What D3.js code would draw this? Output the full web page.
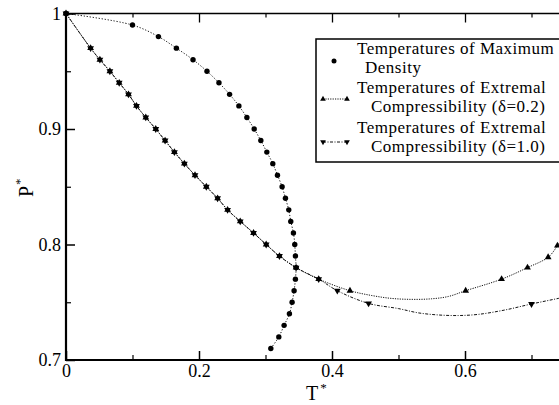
<!DOCTYPE html>
<html>
<head>
<meta charset="utf-8">
<script src="https://cdn.jsdelivr.net/npm/d3@7"></script>
<style>
  html, body { margin: 0; padding: 0; background: #fff; }
  svg { display: block; }
  text { font-family: "Liberation Serif", "Times New Roman", serif; fill: #000; }
</style>
</head>
<body>
<svg id="chart" width="559" height="405"></svg>
<script>
// ---------------- data ----------------
// Temperatures of Maximum Density: [T*, P*]
const tmdT = [0.000, 0.100, 0.139, 0.166, 0.191, 0.212, 0.230, 0.246, 0.260, 0.272,
              0.283, 0.293, 0.302, 0.311, 0.318, 0.325, 0.330, 0.335, 0.338, 0.342,
              0.344, 0.345, 0.346, 0.345, 0.343, 0.340, 0.336, 0.328, 0.320, 0.308];
const tmdP = [1.00, 0.99, 0.98, 0.97, 0.96, 0.95, 0.94, 0.93, 0.92, 0.91,
              0.90, 0.89, 0.88, 0.87, 0.86, 0.85, 0.84, 0.83, 0.82, 0.81,
              0.80, 0.79, 0.78, 0.77, 0.76, 0.75, 0.74, 0.73, 0.72, 0.71];

// Extremal compressibility, delta = 0.2 (line points)
const ec02T = [0.000, 0.037, 0.051, 0.066, 0.080, 0.094, 0.106, 0.120, 0.135, 0.149,
               0.163, 0.178, 0.194, 0.211, 0.228, 0.243, 0.262, 0.282, 0.301, 0.321,
               0.346, 0.380, 0.427, 0.460, 0.490, 0.520, 0.550, 0.575, 0.601, 0.655,
               0.694, 0.725, 0.739, 0.750];
const ec02P = [1.000, 0.970, 0.960, 0.950, 0.940, 0.930, 0.920, 0.910, 0.900, 0.890,
               0.880, 0.870, 0.860, 0.850, 0.840, 0.830, 0.820, 0.810, 0.800, 0.790,
               0.780, 0.770, 0.760, 0.7558, 0.7533, 0.7525, 0.7530, 0.7550, 0.760, 0.770,
               0.780, 0.789, 0.799, 0.810];
// marker flags (1 = symbol drawn at that point)
const ec02Mark = [1,1,1,1,1,1,1,1,1,1, 1,1,1,1,1,1,1,1,1,1, 1,1,1,0,0,0,0,0,1,1, 1,1,1,0];

// Extremal compressibility, delta = 1.0 (line points)
const ec10T = [0.000, 0.037, 0.051, 0.066, 0.080, 0.094, 0.106, 0.120, 0.135, 0.149,
               0.163, 0.178, 0.194, 0.211, 0.228, 0.243, 0.262, 0.282, 0.301, 0.321,
               0.346, 0.380, 0.408, 0.455, 0.500, 0.530, 0.560, 0.590, 0.620, 0.660,
               0.700, 0.741, 0.780];
const ec10P = [1.000, 0.970, 0.960, 0.950, 0.940, 0.930, 0.920, 0.910, 0.900, 0.890,
               0.880, 0.870, 0.860, 0.850, 0.840, 0.830, 0.820, 0.810, 0.800, 0.790,
               0.780, 0.770, 0.760, 0.749, 0.7445, 0.7408, 0.7390, 0.7385, 0.7395, 0.7433,
               0.7485, 0.7534, 0.758];
const ec10Mark = [1,1,1,1,1,1,1,1,1,1, 1,1,1,1,1,1,1,1,1,1, 1,1,1,1,0,0,0,0,0,0, 1,0,0];

// axes
const xMajorTicks = [0, 0.2, 0.4, 0.6, 0.8];
const xTickLabels = ["0", "0.2", "0.4", "0.6", ""];
const xMinorTicks = [0.1, 0.3, 0.5, 0.7];
const yMajorTicks = [0.7, 0.8, 0.9, 1.0];
const yTickLabels = ["0.7", "0.8", "0.9", "1"];
const yMinorTicks = [0.75, 0.85, 0.95];

const legendLabels = [
  ["Temperatures of Maximum", "Density"],
  ["Temperatures of Extremal", "Compressibility (\u03B4=0.2)"],
  ["Temperatures of Extremal", "Compressibility (\u03B4=1.0)"]
];

// ---------------- drawing ----------------
const svg = d3.select("#chart");
const x = d3.scaleLinear().domain([0, 0.8]).range([66, 598]);
const y = d3.scaleLinear().domain([0.7, 1.0]).range([360, 13.5]);

const zip = (a, b) => a.map((v, i) => [v, b[i]]);
const tmd = zip(tmdT, tmdP);
const ec02 = zip(ec02T, ec02P);
const ec10 = zip(ec10T, ec10P);

const line = d3.line().x(d => x(d[0])).y(d => y(d[1])).curve(d3.curveCatmullRom.alpha(0.5));

// lines
svg.append("path").datum(tmd).attr("d", line)
  .attr("fill", "none").attr("stroke", "#111").attr("stroke-width", 1)
  .attr("stroke-dasharray", "1.2,1.8");
svg.append("path").datum(ec02).attr("d", line)
  .attr("fill", "none").attr("stroke", "#111").attr("stroke-width", 1)
  .attr("stroke-dasharray", "1.2,1.2");
svg.append("path").datum(ec10).attr("d", line)
  .attr("fill", "none").attr("stroke", "#111").attr("stroke-width", 1)
  .attr("stroke-dasharray", "3,1.5,1,1.5");

// markers
svg.append("g").selectAll("circle").data(tmd).join("circle")
  .attr("cx", d => x(d[0])).attr("cy", d => y(d[1])).attr("r", 2.7).attr("fill", "#000");

const triUp = d3.symbol().type(d3.symbolTriangle).size(20);
svg.append("g").selectAll("path").data(ec02.filter((d, i) => ec02Mark[i])).join("path")
  .attr("d", triUp).attr("transform", d => `translate(${x(d[0])},${y(d[1])})`).attr("fill", "#000");
svg.append("g").selectAll("path").data(ec10.filter((d, i) => ec10Mark[i])).join("path")
  .attr("d", triUp).attr("transform", d => `translate(${x(d[0])},${y(d[1])}) rotate(180)`).attr("fill", "#000");

// axes
const fontSize = 18;
const xAxisMajor = d3.axisBottom(x).tickValues(xMajorTicks)
  .tickFormat((d, i) => xTickLabels[i]).tickSizeInner(-9).tickSizeOuter(0).tickPadding(6);
const gx = svg.append("g").attr("transform", `translate(0,${y(0.7)})`).call(xAxisMajor);
gx.select(".domain").remove();
gx.selectAll("line").attr("stroke", "#000").attr("stroke-width", 1.5);
gx.selectAll("text").attr("font-size", fontSize).attr("font-family", "Liberation Serif").attr("dy", "0.6em");

const gxm = svg.append("g").attr("transform", `translate(0,${y(0.7)})`)
  .call(d3.axisBottom(x).tickValues(xMinorTicks).tickFormat("").tickSizeInner(-5).tickSizeOuter(0));
gxm.select(".domain").remove();
gxm.selectAll("line").attr("stroke", "#000").attr("stroke-width", 1.2);

// top axis ticks
const gt = svg.append("g").attr("transform", `translate(0,${y(1.0)})`)
  .call(d3.axisTop(x).tickValues(xMajorTicks.slice(1)).tickFormat("").tickSizeInner(-9).tickSizeOuter(0));
gt.select(".domain").remove();
gt.selectAll("line").attr("stroke", "#000").attr("stroke-width", 1.3);
const gtm = svg.append("g").attr("transform", `translate(0,${y(1.0)})`)
  .call(d3.axisTop(x).tickValues(xMinorTicks).tickFormat("").tickSizeInner(-4).tickSizeOuter(0));
gtm.select(".domain").remove();
gtm.selectAll("line").attr("stroke", "#000").attr("stroke-width", 1.2);

const yAxisMajor = d3.axisLeft(y).tickValues(yMajorTicks)
  .tickFormat((d, i) => yTickLabels[i]).tickSizeInner(-9).tickSizeOuter(0).tickPadding(5);
const gy = svg.append("g").attr("transform", `translate(${x(0)},0)`).call(yAxisMajor);
gy.select(".domain").remove();
gy.selectAll("line").attr("stroke", "#000").attr("stroke-width", 1.5);
gy.selectAll("text").attr("font-size", fontSize).attr("font-family", "Liberation Serif");
const gym = svg.append("g").attr("transform", `translate(${x(0)},0)`)
  .call(d3.axisLeft(y).tickValues(yMinorTicks).tickFormat("").tickSizeInner(-5).tickSizeOuter(0));
gym.select(".domain").remove();
gym.selectAll("line").attr("stroke", "#000").attr("stroke-width", 1.2);

// frame lines
svg.append("line").attr("x1", x(0)).attr("x2", 559).attr("y1", y(1.0)).attr("y2", y(1.0))
  .attr("stroke", "#000").attr("stroke-width", 1.5);
svg.append("line").attr("x1", x(0)).attr("x2", 559).attr("y1", y(0.7)).attr("y2", y(0.7))
  .attr("stroke", "#000").attr("stroke-width", 2);
svg.append("line").attr("x1", x(0)).attr("x2", x(0)).attr("y1", y(1.0) - 1).attr("y2", y(0.7) + 1)
  .attr("stroke", "#000").attr("stroke-width", 2.2);

// axis titles
const tx = svg.append("text").attr("x", 306).attr("y", 400).attr("font-size", 20);
tx.append("tspan").text("T");
tx.append("tspan").attr("font-size", 13).attr("dx", 2).attr("dy", -8).text("*");
const py = svg.append("text").attr("transform", "translate(33,197) rotate(-90)").attr("font-size", 20);
py.append("tspan").text("P");
py.append("tspan").attr("font-size", 13).attr("dx", 1).attr("dy", -9).text("*");

// legend
const legFont = 17;
const lg = svg.append("g");
lg.append("rect").attr("x", 316).attr("y", 39).attr("width", 300).attr("height", 123)
  .attr("fill", "#fff").attr("stroke", "#000").attr("stroke-width", 1.5);
const rows = [{y1: 54, y2: 73, sy: 61}, {y1: 93, y2: 112, sy: 99}, {y1: 133, y2: 152, sy: 142}];
rows.forEach((r, i) => {
  const t = lg.append("text").attr("font-size", legFont).attr("letter-spacing", 0.5);
  t.append("tspan").attr("x", 357).attr("y", r.y1).text(legendLabels[i][0]);
  t.append("tspan").attr("x", i === 0 ? 365 : 371).attr("y", r.y2).text(legendLabels[i][1]);
});
lg.append("circle").attr("cx", 334).attr("cy", rows[0].sy).attr("r", 2.5).attr("fill", "#000");
lg.append("line").attr("x1", 323).attr("x2", 347).attr("y1", rows[1].sy).attr("y2", rows[1].sy)
  .attr("stroke", "#111").attr("stroke-dasharray", "1.2,1.2");
lg.append("line").attr("x1", 323).attr("x2", 347).attr("y1", rows[2].sy).attr("y2", rows[2].sy)
  .attr("stroke", "#111").attr("stroke-dasharray", "3,1.5,1,1.5");
const legSym = d3.symbol().type(d3.symbolTriangle).size(14);
[323, 347].forEach(px => {
  lg.append("path").attr("d", legSym).attr("transform", `translate(${px},${rows[1].sy})`).attr("fill", "#000");
  lg.append("path").attr("d", legSym).attr("transform", `translate(${px},${rows[2].sy}) rotate(180)`).attr("fill", "#000");
});
</script>
</body>
</html>
